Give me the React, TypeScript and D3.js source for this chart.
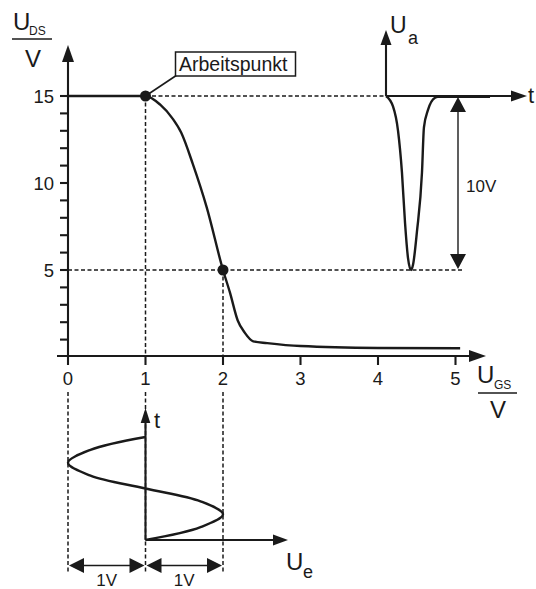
import React from "react";
import * as d3 from "d3";

// Transfer characteristic U_DS(U_GS)
const ugs = [0, 1, 1.19, 1.35, 1.46, 1.61, 1.79, 2.0, 2.09, 2.19, 2.28, 2.39, 2.57, 3.0, 4.0, 5.06];
const uds = [15, 15, 14.5, 13.7, 12.9, 11.1, 8.6, 5.0, 3.7, 2.1, 1.4, 0.9, 0.8, 0.63, 0.52, 0.5];

// Output pulse U_a(t)
const pulseT = [0, 0.5, 0.86, 1.14, 1.36, 1.57, 1.79, 1.93, 2.21, 2.57, 2.71, 3.0, 3.5, 3.71, 7.43];
const pulseU = [15, 14.4, 13.0, 10.6, 7.7, 5.7, 5.0, 5.3, 7.2, 10.6, 13.2, 14.2, 14.9, 14.95, 14.95];

// Input signal U_e(t) around the operating point
const inT = [0, 0.125, 0.25, 0.375, 0.5, 0.625, 0.75, 0.875, 1];
const inU = [0, 0.71, 1, 0.71, 0, -0.71, -1, -0.71, 0];

const xTicks = [0, 1, 2, 3, 4, 5];
const yMinorTicks = d3.range(1, 16);
const yLabels = [5, 10, 15];
const opPoint = { u: 1, v: 15 };
const swingPoint = { u: 2, v: 5 };

const FONT = "'Liberation Sans', Arial, sans-serif";

function head(tipX: number, tipY: number, dir: "up" | "down" | "left" | "right", len: number, half: number) {
  let pts: [number, number][];
  if (dir === "up") pts = [[tipX, tipY], [tipX - half, tipY + len], [tipX + half, tipY + len]];
  else if (dir === "down") pts = [[tipX, tipY], [tipX - half, tipY - len], [tipX + half, tipY - len]];
  else if (dir === "right") pts = [[tipX, tipY], [tipX - len, tipY - half], [tipX - len, tipY + half]];
  else pts = [[tipX, tipY], [tipX + len, tipY - half], [tipX + len, tipY + half]];
  return <polygon points={pts.map((p) => p.join(",")).join(" ")} fill="#1a1a1a" />;
}

export default function App() {
  const x = d3.scaleLinear().domain([0, 5]).range([68, 455.5]);
  const y = d3.scaleLinear().domain([0, 15]).range([357, 96]);
  const tOut = d3.scaleLinear().domain([0, 10]).range([386, 526]);
  const tIn = d3.scaleLinear().domain([0, 1]).range([540, 437]);

  const curveData = ugs.map((u, i) => [u, uds[i]] as [number, number]);
  const curvePath = d3
    .line<[number, number]>()
    .x((d) => x(d[0]))
    .y((d) => y(d[1]))
    .curve(d3.curveMonotoneX)(curveData) as string;

  const pulseData = pulseT.map((t, i) => [t, pulseU[i]] as [number, number]);
  const pulsePath = d3
    .line<[number, number]>()
    .x((d) => tOut(d[0]))
    .y((d) => y(d[1]))
    .curve(d3.curveMonotoneX)(pulseData) as string;

  const inData = inT.map((t, i) => [t, inU[i]] as [number, number]);
  const inPath = d3
    .line<[number, number]>()
    .x((d) => x(opPoint.u + d[1]))
    .y((d) => tIn(d[0]))
    .curve(d3.curveCatmullRom)(inData) as string;

  const stroke = "#1a1a1a";
  const dash = "4 2.5";
  const x0 = x(0);
  const y0 = y(0);
  const xOp = x(opPoint.u);
  const yOp = y(opPoint.v);
  const xSw = x(swingPoint.u);
  const ySw = y(swingPoint.v);
  const uaX = tOut(0);
  const dimX = 458;
  const bottomDot = 572;
  const dimY = 565.5;

  return (
    <svg
      width={536}
      height={589}
      style={{ position: "absolute", left: 0, top: 0, background: "#fff" }}
      fontFamily={FONT}
    >
      <rect width={536} height={589} fill="#fff" />

      {/* dotted guide lines */}
      <g stroke={stroke} strokeWidth={1.5} strokeDasharray={dash} fill="none">
        <line x1={xOp} y1={yOp} x2={uaX} y2={yOp} />
        <line x1={x0} y1={ySw} x2={462} y2={ySw} />
        <line x1={xOp} y1={yOp} x2={xOp} y2={y0} />
        <line x1={xSw} y1={ySw} x2={xSw} y2={y0} />
        <line x1={x0} y1={392} x2={x0} y2={bottomDot} />
        <line x1={xOp} y1={392} x2={xOp} y2={bottomDot} />
        <line x1={xSw} y1={392} x2={xSw} y2={bottomDot} />
      </g>

      {/* main axes */}
      <g stroke={stroke} strokeWidth={2.1}>
        <line x1={x0} y1={y0 - 1} x2={x0} y2={58} />
        <line x1={57} y1={y0 - 1} x2={472} y2={y0 - 1} />
        {yMinorTicks.map((v) => (
          <line key={v} x1={60} x2={x0} y1={y(v)} y2={y(v)} />
        ))}
        {xTicks.map((v) => (
          <line key={v} x1={x(v)} x2={x(v)} y1={y0 - 1} y2={y0 + 8} />
        ))}
      </g>
      {head(x0, 45, "up", 17, 6)}
      {head(486, y0 - 1, "right", 17, 6)}

      {/* tick labels */}
      <g fontSize={18.5} fill={stroke}>
        {yLabels.map((v) => (
          <text key={v} x={54} y={y(v) + 7} textAnchor="end">
            {v}
          </text>
        ))}
        {xTicks.map((v) => (
          <text key={v} x={x(v)} y={385} textAnchor="middle">
            {v}
          </text>
        ))}
      </g>

      {/* axis titles */}
      <g fill={stroke}>
        <text x={13} y={30} fontSize={24}>U</text>
        <text x={29} y={34.5} fontSize={12}>DS</text>
        <line x1={12} x2={52} y1={39} y2={39} stroke={stroke} strokeWidth={1.5} />
        <text x={33} y={67} fontSize={24} textAnchor="middle">V</text>

        <text x={477} y={383} fontSize={24}>U</text>
        <text x={494} y={388.5} fontSize={12}>GS</text>
        <line x1={478} x2={517} y1={393} y2={393} stroke={stroke} strokeWidth={1.5} />
        <text x={498} y={418} fontSize={24} textAnchor="middle">V</text>
      </g>

      {/* transfer curve */}
      <path d={curvePath} fill="none" stroke={stroke} strokeWidth={2.4} strokeLinejoin="round" />

      {/* operating point label */}
      <line x1={xOp} y1={yOp} x2={177} y2={75} stroke={stroke} strokeWidth={1.6} />
      <rect x={175.5} y={52} width={120} height={24} fill="#fff" stroke={stroke} strokeWidth={1.5} />
      <text x={179} y={71} fontSize={19.5} fill={stroke}>Arbeitspunkt</text>

      <circle cx={xOp} cy={yOp} r={5.5} fill={stroke} />
      <circle cx={xSw} cy={ySw} r={5.5} fill={stroke} />

      {/* output signal U_a */}
      <g stroke={stroke} strokeWidth={2.1}>
        <line x1={uaX} y1={yOp} x2={uaX} y2={44} />
        <line x1={uaX} y1={yOp} x2={512} y2={yOp} />
      </g>
      {head(uaX, 30, "up", 15, 5.5)}
      {head(527, yOp, "right", 16, 5.5)}
      <path d={pulsePath} fill="none" stroke={stroke} strokeWidth={2.4} strokeLinejoin="round" />
      <text x={390} y={33} fontSize={23} fill={stroke}>U</text>
      <text x={408} y={44} fontSize={18} fill={stroke}>a</text>
      <text x={528} y={103} fontSize={22} fill={stroke}>t</text>

      {/* 10V span */}
      <line x1={dimX} y1={yOp + 14} x2={dimX} y2={ySw - 14} stroke={stroke} strokeWidth={1.4} />
      {head(dimX, yOp + 1, "up", 15, 8)}
      {head(dimX, ySw - 1, "down", 15, 8)}
      <text x={466} y={192} fontSize={17} fill={stroke}>10V</text>

      {/* input signal U_e */}
      <g stroke={stroke} strokeWidth={2.1}>
        <line x1={xOp} y1={tIn(0)} x2={xOp} y2={420} />
        <line x1={xOp} y1={tIn(0)} x2={275} y2={tIn(0)} />
      </g>
      {head(xOp, 408, "up", 15, 4.8)}
      {head(288, tIn(0), "right", 15, 5.5)}
      <path d={inPath} fill="none" stroke={stroke} strokeWidth={2.4} />
      <text x={154} y={428} fontSize={22} fill={stroke}>t</text>
      <text x={286} y={570} fontSize={24} fill={stroke}>U</text>
      <text x={303} y={578} fontSize={18} fill={stroke}>e</text>

      {/* 1V spans */}
      <g stroke={stroke} strokeWidth={1.4}>
        <line x1={x0 + 10} x2={xOp - 10} y1={dimY} y2={dimY} />
        <line x1={xOp + 10} x2={xSw - 10} y1={dimY} y2={dimY} />
      </g>
      {head(x0 + 1, dimY, "left", 15, 7.5)}
      {head(xOp - 1, dimY, "right", 15, 7.5)}
      {head(xOp + 1, dimY, "left", 15, 7.5)}
      {head(xSw - 1, dimY, "right", 15, 7.5)}
      <text x={(x0 + xOp) / 2} y={586} fontSize={17} fill={stroke} textAnchor="middle">1V</text>
      <text x={(xOp + xSw) / 2} y={586} fontSize={17} fill={stroke} textAnchor="middle">1V</text>
    </svg>
  );
}
